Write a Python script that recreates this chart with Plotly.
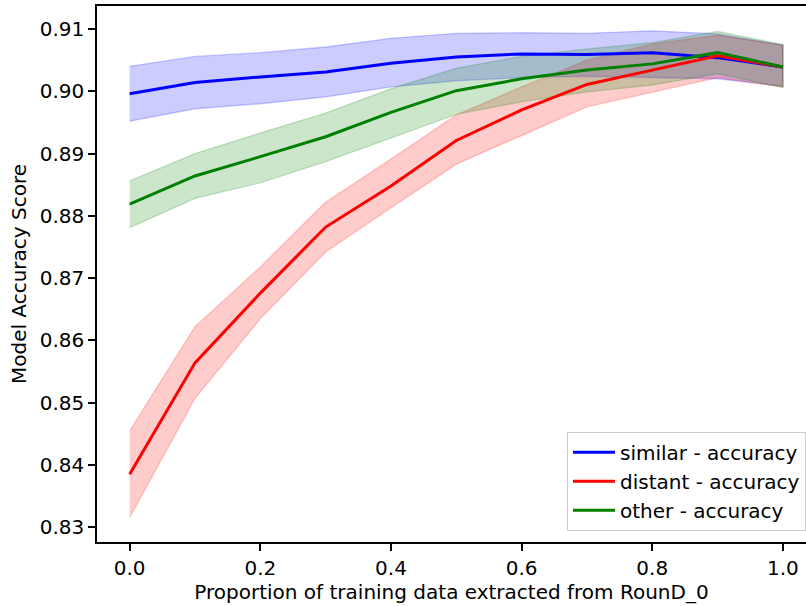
import plotly.graph_objects as go

x = [0.0, 0.1, 0.2, 0.3, 0.4, 0.5, 0.6, 0.7, 0.8, 0.9, 1.0]

similar_mean = [0.8996, 0.9014, 0.9023, 0.9031, 0.9045, 0.9055, 0.9060, 0.9059, 0.9062, 0.9054, 0.9039]
similar_upper = [0.9040, 0.9056, 0.9062, 0.9071, 0.9085, 0.9093, 0.9094, 0.9093, 0.9097, 0.9092, 0.9074]
similar_lower = [0.8952, 0.8972, 0.8980, 0.8991, 0.9007, 0.9017, 0.9022, 0.9024, 0.9022, 0.9020, 0.9008]

distant_mean = [0.8385, 0.8564, 0.8676, 0.8782, 0.8848, 0.8921, 0.8970, 0.9011, 0.9034, 0.9057, 0.9039]
distant_upper = [0.8455, 0.8622, 0.8718, 0.8822, 0.8891, 0.8962, 0.9007, 0.9050, 0.9076, 0.9090, 0.9074]
distant_lower = [0.8316, 0.8507, 0.8635, 0.8742, 0.8813, 0.8883, 0.8929, 0.8975, 0.8999, 0.9022, 0.9007]

other_mean = [0.8819, 0.8864, 0.8895, 0.8927, 0.8966, 0.9001, 0.9020, 0.9034, 0.9044, 0.9062, 0.9039]
other_upper = [0.8856, 0.8900, 0.8933, 0.8965, 0.9004, 0.9037, 0.9056, 0.9068, 0.9078, 0.9096, 0.9075]
other_lower = [0.8781, 0.8828, 0.8853, 0.8887, 0.8925, 0.8963, 0.8983, 0.8999, 0.9010, 0.9028, 0.9006]

series = [
    ("similar - accuracy", similar_mean, similar_upper, similar_lower, (0, 0, 255)),
    ("distant - accuracy", distant_mean, distant_upper, distant_lower, (255, 0, 0)),
    ("other - accuracy", other_mean, other_upper, other_lower, (0, 128, 0)),
]

FONT = "DejaVu Sans"
FS = 20
fig = go.Figure()

for name, mean, up, lo, c in series:
    rgba = f"rgba({c[0]},{c[1]},{c[2]},0.2)"
    fig.add_trace(go.Scatter(
        x=x + x[::-1], y=up + lo[::-1], mode="lines", fill="toself",
        fillcolor=rgba, line=dict(color=rgba, width=1.4),
        showlegend=False, hoverinfo="skip"))

for i, (name, mean, up, lo, c) in enumerate(series):
    fig.add_trace(go.Scatter(
        x=x, y=mean, mode="lines", name=name, legendgroup=f"g{i}",
        line=dict(color=f"rgb({c[0]},{c[1]},{c[2]})", width=3)))

fig.update_layout(
    width=806, height=606,
    margin=dict(l=97, r=0, t=6, b=64),
    paper_bgcolor="white", plot_bgcolor="white",
    font=dict(family=FONT, size=FS, color="black"),
    showlegend=True,
    legend=dict(x=1.0, xanchor="right", y=0.021, yanchor="bottom",
                bgcolor="rgba(255,255,255,0.8)", bordercolor="#cccccc", borderwidth=1,
                font=dict(family=FONT, size=FS, color="black"),
                tracegroupgap=0, itemwidth=42),
)

fig.update_xaxes(
    range=[-0.05, 1.0353], showgrid=False, zeroline=False,
    showline=True, linecolor="black", linewidth=1.6, mirror=True,
    ticks="outside", ticklen=7, tickwidth=1.6, tickcolor="black",
    tickvals=[0.0, 0.2, 0.4, 0.6, 0.8, 1.0],
    ticktext=["0.0", "0.2", "0.4", "0.6", "0.8", "1.0"],
    tickfont=dict(family=FONT, size=FS, color="black"),
    title=dict(text="Proportion of training data extracted from RounD_0",
               font=dict(family=FONT, size=FS, color="black"), standoff=6),
)
fig.update_yaxes(
    range=[0.82764, 0.91369], showgrid=False, zeroline=False,
    showline=True, linecolor="black", linewidth=1.6, mirror=False,
    ticks="outside", ticklen=7, tickwidth=1.6, tickcolor="black",
    tickvals=[0.83, 0.84, 0.85, 0.86, 0.87, 0.88, 0.89, 0.90, 0.91],
    ticktext=["0.83", "0.84", "0.85", "0.86", "0.87", "0.88", "0.89", "0.90", "0.91"],
    tickfont=dict(family=FONT, size=FS, color="black"),
    title=dict(text="Model Accuracy Score",
               font=dict(family=FONT, size=FS, color="black"), standoff=8),
)

fig.write_html("out.html", config={"displayModeBar": False},
               post_script="document.body.style.margin='0';")
